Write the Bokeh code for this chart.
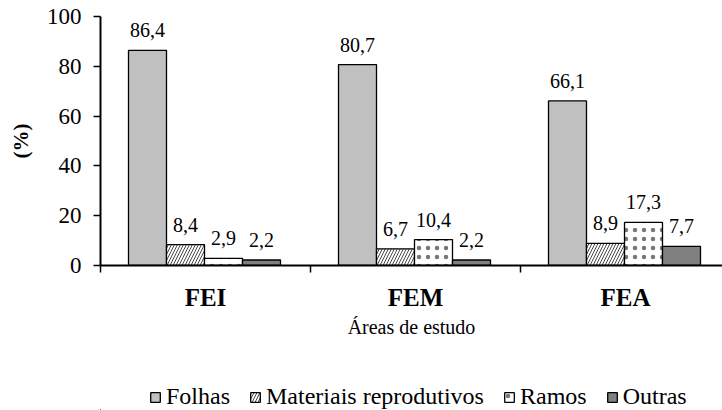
from bokeh.plotting import figure
from bokeh.layouts import column
from bokeh.models import Range1d, FixedTicker, Legend, LegendItem, ColumnDataSource
from bokeh.core.properties import value
from bokeh.embed import file_html
from bokeh.resources import INLINE

# ---- data ----
areas = ["FEI", "FEM", "FEA"]
series = ["Folhas", "Materiais reprodutivos", "Ramos", "Outras"]
folhas = [86.4, 80.7, 66.1]
materiais = [8.4, 6.7, 8.9]
ramos = [2.9, 10.4, 17.3]
outras = [2.2, 2.2, 7.7]
y_ticks = [0, 20, 40, 60, 80, 100]

FONT = "'Liberation Serif', 'Times New Roman', serif"

p = figure(width=722, height=370, output_backend="svg", toolbar_location=None,
           x_range=Range1d(0, 622 / 210), y_range=Range1d(0, 100),
           min_border_left=100, min_border_top=16, min_border_right=0,
           min_border_bottom=105)
p.outline_line_color = None
p.grid.grid_line_color = None
p.background_fill_color = "white"
p.border_fill_color = "white"

bw = 38 / 210
centers = [i + 0.5 - 1 / 210 for i in range(len(areas))]
offsets = [-1.5 * bw, -0.5 * bw, 0.5 * bw, 1.5 * bw]
vals = [folhas, materiais, ramos, outras]
styles = [
    dict(fill_color="#C0C0C0"),
    dict(fill_color="white", hatch_pattern="/", hatch_color="#333333", hatch_scale=6, hatch_weight=0.9),
    dict(fill_color="white", hatch_pattern=".", hatch_color="#777777", hatch_scale=9, hatch_weight=0.8),
    dict(fill_color="#808080"),
]

sources = []
for k, (v, st) in enumerate(zip(vals, styles)):
    xs = [c + offsets[k] for c in centers]
    src = ColumnDataSource(dict(x=xs, top=v, lab=[f"{t:.1f}".replace(".", ",") for t in v]))
    sources.append(src)
    p.vbar(x="x", top="top", width=bw, bottom=0, source=src,
           line_color="black", line_width=1.3, **st)
    p.text(x="x", y="top", text="lab", source=src, text_align="center",
           text_baseline="alphabetic", y_offset=-20,
           text_font=value(FONT), text_font_size="20px", text_color="black")

# y axis
ya = p.yaxis[0]
ya.ticker = FixedTicker(ticks=y_ticks)
ya.axis_label = "(%)"
ya.axis_label_text_font = FONT
ya.axis_label_text_font_style = "bold"
ya.axis_label_text_font_size = "21px"
ya.axis_label_text_color = "black"
ya.axis_label_standoff = 11
ya.major_label_text_font = FONT
ya.major_label_text_font_size = "23px"
ya.major_label_text_color = "black"
ya.major_label_standoff = 12
ya.major_tick_out = 7
ya.major_tick_in = 0
ya.minor_tick_line_color = None
ya.axis_line_width = 2
ya.major_tick_line_width = 1.5

# x axis
xa = p.xaxis[0]
xa.ticker = FixedTicker(ticks=[0.5, 1.5, 2.5], minor_ticks=[0, 1, 2, 3])
xa.major_label_overrides = {0.5: areas[0], 1.5: areas[1], 2.5: areas[2]}
xa.major_label_text_font = FONT
xa.major_label_text_font_style = "bold"
xa.major_label_text_font_size = "25px"
xa.major_label_text_color = "black"
xa.major_label_standoff = 11
xa.major_tick_line_color = None
xa.major_tick_out = 0
xa.major_tick_in = 0
xa.minor_tick_out = 7
xa.minor_tick_in = 0
xa.minor_tick_line_width = 1.5
xa.axis_line_width = 2
xa.axis_label = "Áreas de estudo"
xa.axis_label_text_font = FONT
xa.axis_label_text_font_style = "normal"
xa.axis_label_text_font_size = "20px"
xa.axis_label_text_color = "black"
xa.axis_label_standoff = 2

# legend strip below the chart
lg = figure(width=722, height=40, output_backend="svg", toolbar_location=None,
            x_range=Range1d(1000, 2000), y_range=Range1d(1000, 1001),
            x_axis_type=None, y_axis_type=None,
            min_border_left=0, min_border_right=0, min_border_top=0, min_border_bottom=0)
lg.outline_line_color = None
lg.grid.grid_line_color = None
lg.background_fill_color = "white"
lg.border_fill_color = "white"
lrs = []
for src, st in zip(sources, styles):
    lrs.append(lg.vbar(x="x", top="top", width=bw, bottom=0, source=src,
                       line_color="black", line_width=1.3, **st))

legend = Legend(items=[LegendItem(label=s, renderers=[r]) for s, r in zip(series, lrs)],
                location=(49, 0), orientation="horizontal",
                padding=0, margin=0, spacing=19, label_standoff=5,
                glyph_width=12, glyph_height=12, label_height=26,
                border_line_color=None, background_fill_alpha=0)
legend.label_text_font = FONT
legend.label_text_font_style = "normal"
legend.label_text_font_size = "24px"
legend.label_text_color = "black"
lg.add_layout(legend, "center")

layout = column(p, lg, spacing=0)
open("out.html", "w").write(file_html(layout, INLINE))
